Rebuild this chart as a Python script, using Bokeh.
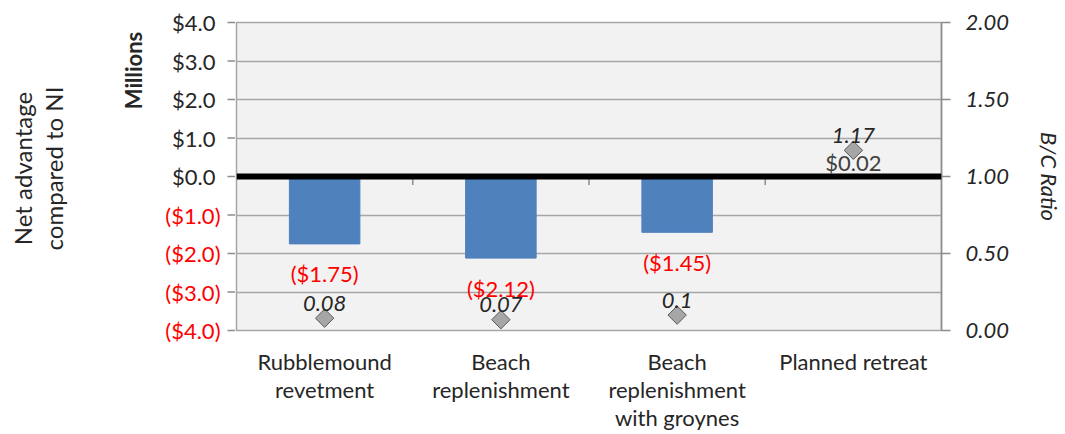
import math
from bokeh.plotting import figure
from bokeh.layouts import row
from bokeh.models import (Range1d, LinearAxis, FixedTicker, NumeralTickFormatter,
                          Span, Label, ColumnDataSource)
from bokeh.core.properties import value
from bokeh.embed import file_html
from bokeh.resources import INLINE

# ---------------- data ----------------
categories = ["Rubblemound revetment", "Beach replenishment",
              "Beach replenishment with groynes", "Planned retreat"]
category_lines = [["Rubblemound", "revetment"], ["Beach", "replenishment"],
                  ["Beach", "replenishment", "with groynes"], ["Planned retreat"]]
net_advantage = [-1.75, -2.12, -1.45, 0.02]   # $ millions, compared to NI
bc_ratio = [0.08, 0.07, 0.1, 1.17]
left_ticks = [-4, -3, -2, -1, 0, 1, 2, 3, 4]
left_tick_labels = ["($4.0)", "($3.0)", "($2.0)", "($1.0)", "$0.0", "$1.0", "$2.0", "$3.0", "$4.0"]
right_ticks = [0, 0.5, 1.0, 1.5, 2.0]
y_min, y_max = -4, 4
bc_min, bc_max = 0, 2

# ---------------- style ----------------
FONT = "Lato"
FS = "22px"
TXT = "#262626"
RED = "#ff0000"
GRID = "#a6a6a6"
AXC = "#8c8c8c"
H = 434
LW = 235            # width of the left title strip
W = 1065 - LW       # width of the main chart
FT, FB = 22, 104    # top / bottom borders of the plot area


def money(v):
    return "(${:.2f})".format(-v) if v < 0 else "${:.2f}".format(v)


n = len(categories)
xs = [i + 0.5 for i in range(n)]          # category centres on the x scale

src = ColumnDataSource(dict(
    x=xs,
    val=net_advantage,
    bc=bc_ratio,
    val_text=[money(v) for v in net_advantage],
    val_color=[RED if v < 0 else "#404040" for v in net_advantage],
    val_off=[30 if v < 0 else -13 for v in net_advantage],
    bc_text=[str(v) for v in bc_ratio],
))

# ================= main chart =================
p = figure(x_range=Range1d(0, n), y_range=Range1d(y_min, y_max),
           width=W, height=H, output_backend="svg", toolbar_location=None,
           y_axis_location=None, frame_align=False,
           min_border_left=1, min_border_right=122, min_border_top=FT, min_border_bottom=FB)
p.extra_y_ranges = {"bc": Range1d(bc_min, bc_max)}

p.background_fill_color = "#f2f2f2"
p.border_fill_color = "white"
p.outline_line_color = GRID
p.outline_line_width = 1.5

p.xgrid.visible = False
p.ygrid.ticker = FixedTicker(ticks=left_ticks)
p.ygrid.grid_line_color = GRID
p.ygrid.grid_line_width = 1.5

# right axis
ra = LinearAxis(y_range_name="bc", ticker=FixedTicker(ticks=right_ticks),
                formatter=NumeralTickFormatter(format="0.00"), axis_label="B/C Ratio")
ra.axis_line_color = AXC
ra.axis_line_width = 1.5
ra.major_tick_line_color = AXC
ra.major_tick_line_width = 1.5
ra.major_tick_out = 9
ra.major_tick_in = 0
ra.minor_tick_line_color = None
ra.major_label_standoff = 15
ra.major_label_text_font = FONT
ra.major_label_text_font_size = FS
ra.major_label_text_font_style = "italic"
ra.major_label_text_color = TXT
ra.axis_label_text_font = FONT
ra.axis_label_text_font_size = FS
ra.axis_label_text_font_style = "italic"
ra.axis_label_text_color = TXT
ra.axis_label_standoff = 24
p.add_layout(ra, "right")

# category labels: one axis per text line, stacked below the plot area
n_lines = max(len(l) for l in category_lines)
for i in range(n_lines):
    ax = p.xaxis[0] if i == 0 else LinearAxis()
    pos = [x for x, ls in zip(xs, category_lines) if i < len(ls)]
    ax.ticker = FixedTicker(ticks=pos)
    ax.major_label_overrides = {x: ls[i] for x, ls in zip(xs, category_lines) if i < len(ls)}
    ax.axis_line_color = None
    ax.major_tick_line_color = None
    ax.minor_tick_line_color = None
    ax.major_tick_out = 0
    ax.major_tick_in = 0
    ax.major_label_standoff = 17 if i == 0 else -2
    ax.major_label_text_font = FONT
    ax.major_label_text_font_size = FS
    ax.major_label_text_color = TXT
    if i > 0:
        p.add_layout(ax, "below")

# bars
p.vbar(x="x", top="val", bottom=0, width=0.4, source=src,
       fill_color="#4f81bd", line_color="#4f81bd")

# category boundary ticks on the zero line
bounds = list(range(1, n))
p.segment(x0=bounds, y0=[0] * len(bounds), x1=bounds, y1=[-0.22] * len(bounds),
          line_color=AXC, line_width=1.5)

# zero line
p.add_layout(Span(location=0, dimension="width", line_color="black", line_width=6))

# B/C ratio diamonds
p.scatter(x="x", y="bc", y_range_name="bc", source=src, marker="square", angle=math.pi / 4,
          size=13, fill_color="#a6a6a6", line_color="#595959", line_width=1)

# value labels
p.text(x="x", y="val", text="val_text", source=src, text_color="val_color", y_offset="val_off",
       text_align="center", text_baseline="middle",
       text_font=value(FONT), text_font_size=value(FS))
p.text(x="x", y="bc", y_range_name="bc", text="bc_text", source=src, y_offset=-15,
       text_align="center", text_baseline="middle", text_color=TXT,
       text_font=value(FONT), text_font_size=value(FS), text_font_style="italic")

# ================= left strip: primary tick labels and titles =================
# its scale spans the whole strip but is aligned with the plot area's y scale
ppu = (H - FT - FB) / (y_max - y_min)
lf = figure(x_range=Range1d(0, LW), y_range=Range1d(y_min - FB / ppu, y_max + FT / ppu),
            width=LW, height=H, output_backend="svg", toolbar_location=None,
            x_axis_location=None, y_axis_location=None, frame_align=False,
            min_border_left=0, min_border_right=0, min_border_top=0, min_border_bottom=0)
lf.outline_line_color = None
lf.background_fill_color = "white"
lf.border_fill_color = "white"
lf.grid.visible = False

tick_src = ColumnDataSource(dict(
    y=left_ticks,
    text=left_tick_labels,
    color=[RED if t < 0 else TXT for t in left_ticks],
    x=[LW - 15 if t < 0 else LW - 20 for t in left_ticks],
    x0=[LW - 8] * len(left_ticks),
    x1=[LW] * len(left_ticks),
))
lf.segment(x0="x0", y0="y", x1="x1", y1="y", source=tick_src, line_color=AXC, line_width=1.5)
lf.text(x="x", y="y", text="text", source=tick_src, text_color="color",
        text_align="right", text_baseline="middle",
        text_font=value(FONT), text_font_size=value(FS))

lf.add_layout(Label(x=133, y=H - 70, x_units="screen", y_units="screen", text="Millions",
                    angle=math.pi / 2, text_align="center", text_baseline="middle",
                    text_font=FONT, text_font_size=FS, text_font_style="bold", text_color=TXT))
for i, part in enumerate(["Net advantage", "compared to NI"]):
    lf.add_layout(Label(x=22 + 31 * i, y=H - 168, x_units="screen", y_units="screen", text=part,
                        angle=math.pi / 2, text_align="center", text_baseline="middle",
                        text_font=FONT, text_font_size="24px", text_color=TXT))

layout = row(lf, p)
open("out.html", "w").write(file_html(layout, INLINE))
